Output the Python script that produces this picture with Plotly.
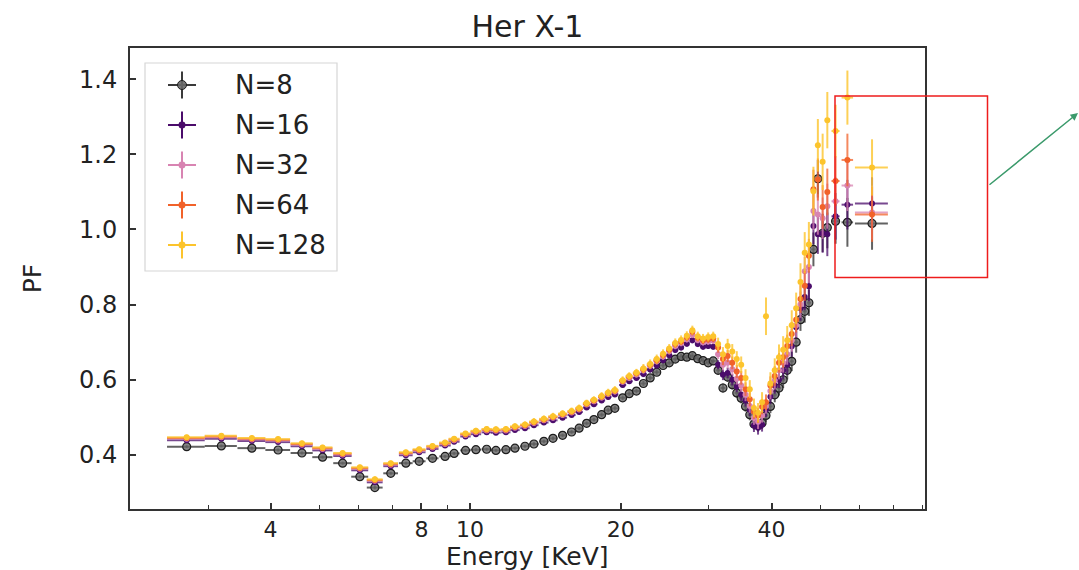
import plotly.graph_objects as go

# Energy bin centres [keV] and half-widths
energy = [2.72, 3.19, 3.67, 4.14, 4.62, 5.08, 5.57, 6.03, 6.46, 6.95, 7.45, 7.92, 8.42, 8.92, 9.30, 9.80,
          10.28, 10.80, 11.27, 11.80, 12.30, 12.88, 13.42, 14.05, 14.65, 15.31, 15.96, 16.52, 17.10, 17.68,
          18.32, 18.88, 19.47, 20.18, 20.80, 21.50,
          22.2, 22.9, 23.6, 24.3, 25.0, 25.7, 26.4, 27.1, 27.8, 28.5, 29.2, 29.9, 30.6,
          31.3, 32.0, 32.7, 33.4, 34.1, 34.8, 35.5, 36.2, 36.9, 37.6, 38.3, 39.0,
          39.8, 40.6, 41.4, 42.2, 43.0, 43.9, 44.8,
          45.7, 46.6, 47.5, 48.5, 49.5, 50.6, 51.7,
          53.7, 56.7, 63.5]

energy_err = [0.235, 0.235, 0.235, 0.235, 0.235, 0.235, 0.235, 0.235, 0.235, 0.235, 0.235, 0.235, 0.235, 0.235, 0.235, 0.235,
              0.25, 0.25, 0.25, 0.25, 0.27, 0.28, 0.29, 0.30, 0.31, 0.32, 0.30, 0.29, 0.29, 0.30, 0.30, 0.29, 0.32, 0.33, 0.34, 0.35,
              0.35, 0.35, 0.35, 0.35, 0.35, 0.35, 0.35, 0.35, 0.35, 0.35, 0.35, 0.35, 0.35,
              0.35, 0.35, 0.35, 0.35, 0.35, 0.35, 0.35, 0.35, 0.35, 0.35, 0.35, 0.38,
              0.40, 0.40, 0.40, 0.40, 0.40, 0.45, 0.45,
              0.45, 0.45, 0.45, 0.50, 0.50, 0.55, 0.55,
              1.0, 1.5, 4.8]

# Pulsed fraction for each number of phase bins N
pf_n8 = [0.422, 0.424, 0.418, 0.413, 0.405, 0.394, 0.378, 0.342, 0.313, 0.351, 0.378, 0.383, 0.391, 0.396, 0.404, 0.412,
         0.414, 0.415, 0.412, 0.414, 0.418, 0.423, 0.429, 0.436, 0.444, 0.452, 0.461, 0.471, 0.484, 0.494, 0.507, 0.519, 0.524, 0.552, 0.563, 0.570,
         0.590, 0.605, 0.620, 0.638, 0.645, 0.655, 0.662, 0.660, 0.664, 0.656, 0.651, 0.645, 0.650,
         0.625, 0.578, 0.607, 0.587, 0.565, 0.551, 0.529, 0.507, 0.482, 0.478, 0.485, 0.505,
         0.529, 0.560, 0.578, 0.600, 0.625, 0.649, 0.700,
         0.760, 0.782, 0.805, 0.947, 1.135, 0.990, 1.005,
         1.022, 1.019, 1.016]

pf_n16 = [0.439, 0.443, 0.437, 0.434, 0.423, 0.412, 0.397, 0.359, 0.327, 0.370, 0.399, 0.407, 0.416, 0.425, 0.435, 0.449,
          0.455, 0.460, 0.459, 0.460, 0.466, 0.471, 0.479, 0.486, 0.492, 0.499, 0.506, 0.514, 0.526, 0.535, 0.545, 0.554, 0.561, 0.586, 0.596, 0.605,
          0.615, 0.627, 0.638, 0.652, 0.665, 0.679, 0.686, 0.696, 0.705, 0.695, 0.688, 0.690, 0.688,
          0.640, 0.613, 0.618, 0.600, 0.582, 0.560, 0.545, 0.520, 0.478, 0.472, 0.480, 0.520,
          0.555, 0.585, 0.600, 0.625, 0.640, 0.689, 0.740,
          0.790, 0.820, 0.849, 1.009, 0.987, 0.990, 0.987,
          1.035, 1.066, 1.069]

pf_n32 = [0.443, 0.447, 0.441, 0.438, 0.427, 0.416, 0.401, 0.363, 0.331, 0.374, 0.403, 0.411, 0.420, 0.429, 0.439, 0.453,
          0.460, 0.465, 0.464, 0.465, 0.472, 0.477, 0.485, 0.492, 0.499, 0.506, 0.513, 0.521, 0.534, 0.543, 0.553, 0.562, 0.569, 0.595, 0.605, 0.614,
          0.625, 0.637, 0.649, 0.662, 0.676, 0.690, 0.698, 0.708, 0.720, 0.706, 0.700, 0.702, 0.704,
          0.668, 0.640, 0.645, 0.628, 0.603, 0.585, 0.560, 0.530, 0.498, 0.488, 0.505, 0.530,
          0.570, 0.598, 0.625, 0.645, 0.668, 0.705, 0.745,
          0.800, 0.889, 0.900, 1.049, 1.040, 1.030, 1.062,
          1.075, 1.117, 1.045]

pf_n64 = [0.445, 0.449, 0.443, 0.440, 0.429, 0.418, 0.403, 0.365, 0.333, 0.376, 0.405, 0.413, 0.422, 0.431, 0.441, 0.455,
          0.462, 0.467, 0.466, 0.467, 0.474, 0.479, 0.487, 0.494, 0.501, 0.508, 0.515, 0.523, 0.536, 0.545, 0.555, 0.564, 0.571, 0.597, 0.608, 0.617,
          0.628, 0.640, 0.652, 0.666, 0.680, 0.695, 0.702, 0.713, 0.728, 0.712, 0.705, 0.708, 0.710,
          0.686, 0.655, 0.663, 0.645, 0.622, 0.605, 0.575, 0.548, 0.515, 0.505, 0.528, 0.540,
          0.585, 0.610, 0.645, 0.660, 0.690, 0.722, 0.760,
          0.815, 0.850, 0.930, 1.107, 1.133, 1.060, 1.100,
          1.129, 1.185, 1.040]

pf_n128 = [0.447, 0.451, 0.445, 0.442, 0.431, 0.420, 0.405, 0.367, 0.335, 0.378, 0.407, 0.415, 0.424, 0.433, 0.443, 0.457,
           0.464, 0.469, 0.468, 0.469, 0.476, 0.481, 0.489, 0.496, 0.503, 0.510, 0.517, 0.525, 0.538, 0.547, 0.557, 0.566, 0.573, 0.599, 0.610, 0.619,
           0.630, 0.642, 0.655, 0.669, 0.683, 0.698, 0.706, 0.717, 0.732, 0.716, 0.710, 0.714, 0.716,
           0.695, 0.668, 0.690, 0.675, 0.655, 0.640, 0.605, 0.575, 0.525, 0.512, 0.540, 0.769,
           0.590, 0.625, 0.660, 0.680, 0.705, 0.745, 0.790,
           0.860, 0.938, 0.960, 1.102, 1.224, 1.180, 1.291,
           1.262, 1.351, 1.165]

# 1-sigma uncertainties on the pulsed fraction
err_n8 = [0.004, 0.004, 0.004, 0.004, 0.004, 0.004, 0.004, 0.004, 0.005, 0.004, 0.004, 0.004, 0.004, 0.004, 0.004, 0.004,
          0.004, 0.004, 0.004, 0.004, 0.004, 0.004, 0.005, 0.005, 0.005, 0.005, 0.005, 0.005, 0.005, 0.005, 0.006, 0.006, 0.006, 0.006, 0.006, 0.006,
          0.007, 0.007, 0.007, 0.007, 0.007, 0.007, 0.007, 0.007, 0.007, 0.007, 0.007, 0.007, 0.007,
          0.010, 0.012, 0.012, 0.013, 0.013, 0.014, 0.014, 0.015, 0.015, 0.016, 0.016, 0.017,
          0.018, 0.020, 0.020, 0.022, 0.024, 0.026, 0.028,
          0.030, 0.030, 0.035, 0.045, 0.050, 0.050, 0.055,
          0.060, 0.065, 0.070]

err_n16 = [0.005, 0.005, 0.005, 0.005, 0.005, 0.005, 0.005, 0.005, 0.006, 0.005, 0.005, 0.005, 0.005, 0.005, 0.005, 0.005,
           0.005, 0.005, 0.005, 0.005, 0.005, 0.005, 0.006, 0.006, 0.006, 0.006, 0.006, 0.006, 0.006, 0.006, 0.007, 0.007, 0.007, 0.007, 0.007, 0.007,
           0.008, 0.008, 0.008, 0.008, 0.008, 0.008, 0.008, 0.008, 0.008, 0.008, 0.008, 0.008, 0.008,
           0.012, 0.014, 0.014, 0.015, 0.015, 0.016, 0.016, 0.017, 0.017, 0.018, 0.018, 0.019,
           0.020, 0.022, 0.022, 0.024, 0.026, 0.028, 0.030,
           0.033, 0.035, 0.040, 0.048, 0.052, 0.052, 0.058,
           0.062, 0.066, 0.070]

err_n32 = [0.005, 0.005, 0.005, 0.005, 0.005, 0.005, 0.005, 0.005, 0.006, 0.005, 0.005, 0.005, 0.005, 0.005, 0.005, 0.005,
           0.006, 0.006, 0.006, 0.006, 0.006, 0.006, 0.007, 0.007, 0.007, 0.007, 0.007, 0.007, 0.007, 0.007, 0.008, 0.008, 0.008, 0.008, 0.008, 0.008,
           0.009, 0.009, 0.009, 0.009, 0.009, 0.009, 0.009, 0.009, 0.009, 0.009, 0.009, 0.009, 0.009,
           0.013, 0.015, 0.015, 0.016, 0.016, 0.017, 0.017, 0.018, 0.018, 0.019, 0.019, 0.020,
           0.022, 0.024, 0.024, 0.026, 0.028, 0.030, 0.032,
           0.035, 0.038, 0.042, 0.050, 0.054, 0.055, 0.060,
           0.064, 0.068, 0.072]

err_n64 = [0.006, 0.006, 0.006, 0.006, 0.006, 0.006, 0.006, 0.006, 0.007, 0.006, 0.006, 0.006, 0.006, 0.006, 0.006, 0.006,
           0.006, 0.006, 0.006, 0.006, 0.006, 0.006, 0.007, 0.007, 0.007, 0.007, 0.007, 0.007, 0.007, 0.007, 0.008, 0.008, 0.008, 0.008, 0.008, 0.008,
           0.010, 0.010, 0.010, 0.010, 0.010, 0.010, 0.010, 0.010, 0.010, 0.010, 0.010, 0.010, 0.010,
           0.014, 0.016, 0.016, 0.017, 0.017, 0.018, 0.018, 0.019, 0.019, 0.020, 0.020, 0.021,
           0.024, 0.026, 0.026, 0.028, 0.030, 0.032, 0.034,
           0.037, 0.040, 0.045, 0.052, 0.056, 0.058, 0.062,
           0.066, 0.070, 0.073]

err_n128 = [0.007, 0.007, 0.007, 0.007, 0.007, 0.007, 0.007, 0.007, 0.008, 0.007, 0.007, 0.007, 0.007, 0.007, 0.007, 0.007,
            0.008, 0.008, 0.008, 0.008, 0.008, 0.008, 0.009, 0.009, 0.009, 0.009, 0.009, 0.009, 0.009, 0.009, 0.010, 0.010, 0.010, 0.010, 0.010, 0.010,
            0.012, 0.012, 0.012, 0.012, 0.012, 0.012, 0.012, 0.012, 0.012, 0.012, 0.012, 0.012, 0.012,
            0.017, 0.019, 0.019, 0.020, 0.021, 0.022, 0.023, 0.024, 0.025, 0.026, 0.027, 0.050,
            0.030, 0.032, 0.034, 0.036, 0.038, 0.040, 0.042,
            0.050, 0.055, 0.060, 0.065, 0.070, 0.075, 0.075,
            0.070, 0.072, 0.075]

series_names = ["N=8", "N=16", "N=32", "N=64", "N=128"]
series_pf = [pf_n8, pf_n16, pf_n32, pf_n64, pf_n128]
series_err = [err_n8, err_n16, err_n32, err_n64, err_n128]

# styling per series: (marker fill, marker edge, error-bar colour, marker size)
styles = [
    ("rgba(105,105,105,0.8)", "#1e1e1e", "rgba(45,45,45,0.75)", 8),
    ("#4b0c6b", "#4b0c6b", "rgba(75,12,107,0.75)", 6),
    ("#d884b2", "#d884b2", "rgba(216,132,178,0.75)", 6),
    ("#f1622a", "#f1622a", "rgba(241,98,42,0.75)", 6),
    ("#fcc42c", "#fcc42c", "rgba(252,196,44,0.8)", 6),
]

# plot-area placement in the 1079x570 canvas
W, H = 1079, 570
ML, MR, MT, MB = 130, 154, 48, 61
PW, PH = W - ML - MR, H - MT - MB


def px(x):
    return (x - ML) / PW


def py(y):
    return (H - MB - y) / PH


fig = go.Figure()

for name, pf, err, (fill, edge, ecol, msize) in zip(series_names, series_pf, series_err, styles):
    fig.add_trace(go.Scatter(
        x=energy, y=pf, mode="markers", name=name, showlegend=False,
        marker=dict(size=msize, color=fill, line=dict(color=edge, width=1.2 if name == "N=8" else 0)),
        error_y=dict(type="data", array=err, color=ecol, thickness=2, width=0),
        error_x=dict(type="data", array=energy_err, color=ecol, thickness=2, width=0),
    ))

axis_color = "#333333"
font_family = "DejaVu Sans"
text_color = "#222222"

fig.update_layout(
    width=W, height=H,
    margin=dict(l=ML, r=MR, t=MT, b=MB, autoexpand=False),
    paper_bgcolor="white", plot_bgcolor="white",
    showlegend=False,
    font=dict(family=font_family, color=text_color),
    title=dict(text="Her X-1", xref="paper", x=0.5, xanchor="center", y=1 - 26 / H, yanchor="middle",
               font=dict(size=30, family=font_family, color=text_color)),
    xaxis=dict(
        type="log", range=[0.3214, 1.9085], automargin=False,
        tickmode="array", tickvals=[4, 8, 10, 20, 40], ticktext=["4", "8", "10", "20", "40"],
        ticks="inside", ticklen=6, tickwidth=1.5, tickcolor=axis_color,
        minor=dict(tickmode="array", tickvals=[3, 5, 6, 7, 9, 30, 50, 60, 70, 80],
                   ticks="inside", ticklen=4, tickwidth=1.2, tickcolor=axis_color),
        showline=True, linecolor=axis_color, linewidth=2, mirror=True,
        showgrid=False, zeroline=False,
        tickfont=dict(size=22), ticklabelstandoff=0,
    ),
    yaxis=dict(
        range=[0.256, 1.483], automargin=False,
        tickmode="array", tickvals=[0.4, 0.6, 0.8, 1.0, 1.2, 1.4], tickformat=".1f",
        ticks="inside", ticklen=6, tickwidth=1.5, tickcolor=axis_color,
        showline=True, linecolor=axis_color, linewidth=2, mirror=True,
        showgrid=False, zeroline=False,
        tickfont=dict(size=24), ticklabelstandoff=6,
        title=dict(text="PF", font=dict(size=25), standoff=30),
    ),
)

# x-axis title placed just under the tick labels
fig.add_annotation(xref="paper", yref="paper", x=0.5, y=py(556), xanchor="center", yanchor="middle",
                   showarrow=False, text="Energy [KeV]",
                   font=dict(size=25, family=font_family, color=text_color))

# legend box with error-bar style keys
legend_box = dict(x0=145, x1=337, y0=63, y1=271)
legend_rows = [85, 125, 165, 205, 245]
key_cx, key_half_w, key_half_h, text_x = 182, 14, 13.5, 233
key_colors = ["#3a3a3a", "#4b0c6b", "#d884b2", "#f1622a", "#fcc42c"]
key_dots = [("rgba(105,105,105,0.9)", "#1e1e1e", 4.5), ("#4b0c6b", "#4b0c6b", 3.2),
            ("#d884b2", "#d884b2", 3.2), ("#f1622a", "#f1622a", 3.2), ("#fcc42c", "#fcc42c", 3.2)]

fig.add_shape(type="rect", xref="paper", yref="paper",
              x0=px(legend_box["x0"]), x1=px(legend_box["x1"]),
              y0=py(legend_box["y1"]), y1=py(legend_box["y0"]),
              line=dict(color="#d6d6d6", width=1.2), fillcolor="rgba(255,255,255,0.85)")
for name, yc, col, (dfill, dedge, dr) in zip(series_names, legend_rows, key_colors, key_dots):
    fig.add_shape(type="line", xref="paper", yref="paper",
                  x0=px(key_cx - key_half_w), x1=px(key_cx + key_half_w), y0=py(yc), y1=py(yc),
                  line=dict(color=col, width=2))
    fig.add_shape(type="line", xref="paper", yref="paper",
                  x0=px(key_cx), x1=px(key_cx), y0=py(yc - key_half_h), y1=py(yc + key_half_h),
                  line=dict(color=col, width=2))
    fig.add_shape(type="circle", xref="paper", yref="paper",
                  x0=px(key_cx - dr), x1=px(key_cx + dr), y0=py(yc + dr), y1=py(yc - dr),
                  line=dict(color=dedge, width=1), fillcolor=dfill)
    fig.add_annotation(xref="paper", yref="paper", x=px(text_x), y=py(yc),
                       xanchor="left", yanchor="middle", showarrow=False, text=name,
                       font=dict(size=26, family=font_family, color=text_color))

# highlight box around the high-energy bins, with a pointer leading off to the right
fig.add_shape(type="rect", xref="paper", yref="paper",
              x0=px(835), x1=px(987.5), y0=py(277.5), y1=py(96),
              line=dict(color="#ee1c1c", width=1.5), fillcolor="rgba(0,0,0,0)")
fig.add_annotation(xref="paper", yref="paper", x=px(1078), y=py(113),
                   axref="pixel", ayref="pixel", ax=-90, ay=73,
                   showarrow=True, arrowhead=2, arrowsize=1, arrowwidth=1.5,
                   arrowcolor="#3b9a6b", text="")

fig.write_html("out.html")
